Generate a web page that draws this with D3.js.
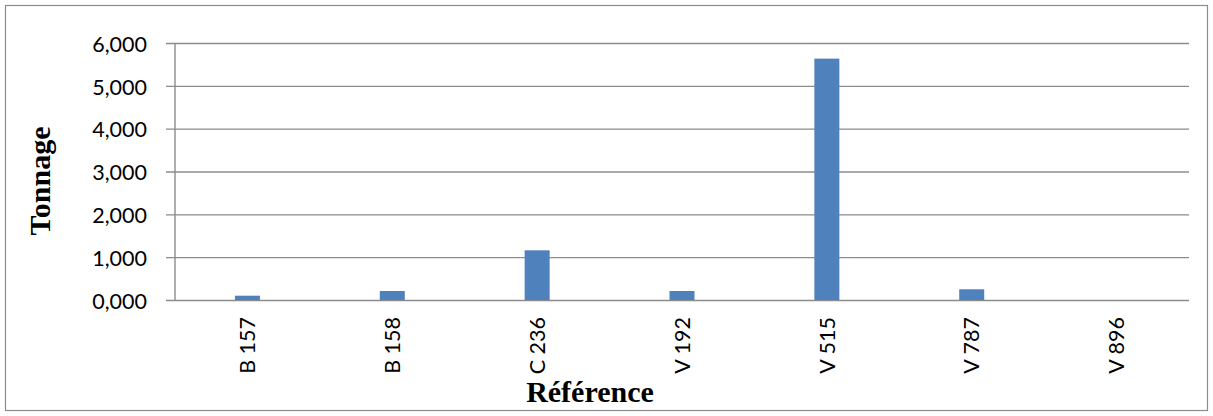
<!DOCTYPE html>
<html>
<head>
<meta charset="utf-8">
<script src="https://cdn.jsdelivr.net/npm/d3@7"></script>
<style>
  html, body { margin: 0; padding: 0; background: #fff; }
  svg { display: block; }
</style>
</head>
<body>
<svg id="chart" width="1213" height="416"></svg>
<script>
// Tonnage per reference
const categories = ["B 157", "B 158", "C 236", "V 192", "V 515", "V 787", "V 896"];
const tonnage = [100, 210, 1160, 210, 5635, 250, 0];
const yTicks = [0, 1000, 2000, 3000, 4000, 5000, 6000];

const svg = d3.select("#chart");
const W = 1213, H = 416;
const margin = { left: 175, right: 24, top: 43, bottom: 116 };
const plotW = W - margin.left - margin.right;
const plotH = H - margin.top - margin.bottom;

// outer frame
svg.append("rect")
  .attr("x", 5.5).attr("y", 5.5)
  .attr("width", W - 11).attr("height", H - 11)
  .attr("fill", "#fff").attr("stroke", "#8c8c8c").attr("stroke-width", 1.2);

const g = svg.append("g").attr("transform", `translate(${margin.left},${margin.top})`);

const x = d3.scaleBand().domain(categories).range([0, plotW]).paddingInner(0).paddingOuter(0);
const y = d3.scaleLinear().domain([0, 6000]).range([plotH, 0]);

const fmt = v => d3.format(",.3f")(v / 1000).replace(".", ",");

// gridlines with tick marks extending left of the axis
const yAxis = d3.axisLeft(y).tickValues(yTicks).tickSize(-plotW).tickFormat(fmt);
const ya = g.append("g").call(yAxis);
ya.select(".domain").remove();
ya.selectAll(".tick line")
  .attr("x1", -9)
  .attr("stroke", "#8c8c8c").attr("stroke-width", 1.4);
ya.selectAll(".tick text")
  .attr("x", -28)
  .attr("dy", "0.38em")
  .attr("font-family", "Lato, 'Open Sans', sans-serif")
  .attr("font-size", 21.5)
  .attr("fill", "#000");

// vertical axis line
g.append("line")
  .attr("x1", 0).attr("x2", 0).attr("y1", y(6000)).attr("y2", y(0))
  .attr("stroke", "#8c8c8c").attr("stroke-width", 1.4);

// bars
const barW = 25;
g.selectAll("rect.bar")
  .data(categories.map((c, i) => ({ c, v: tonnage[i] })))
  .join("rect")
  .attr("class", "bar")
  .attr("x", d => x(d.c) + x.bandwidth() / 2 - barW / 2)
  .attr("y", d => y(d.v))
  .attr("width", barW)
  .attr("height", d => y(0) - y(d.v))
  .attr("fill", "#4f81bd");

// category labels, rotated
const xAxis = d3.axisBottom(x).tickSize(0).tickPadding(0);
const xa = g.append("g").attr("transform", `translate(0,${plotH})`).call(xAxis);
xa.select(".domain").remove();
xa.selectAll(".tick text")
  .attr("transform", "rotate(-90)")
  .attr("x", -17).attr("y", 0).attr("dy", "0.36em")
  .attr("text-anchor", "end")
  .attr("font-family", "Lato, 'Open Sans', sans-serif")
  .attr("font-size", 21.5)
  .attr("fill", "#000");

// axis titles
svg.append("text")
  .attr("x", 590).attr("y", 402)
  .attr("text-anchor", "middle")
  .attr("font-family", "'Liberation Serif', 'Times New Roman', serif")
  .attr("font-weight", "bold").attr("font-size", 30)
  .text("Référence");

svg.append("text")
  .attr("transform", "translate(50,181) rotate(-90)")
  .attr("text-anchor", "middle")
  .attr("font-family", "'Liberation Serif', 'Times New Roman', serif")
  .attr("font-weight", "bold").attr("font-size", 30)
  .text("Tonnage");
</script>
</body>
</html>
